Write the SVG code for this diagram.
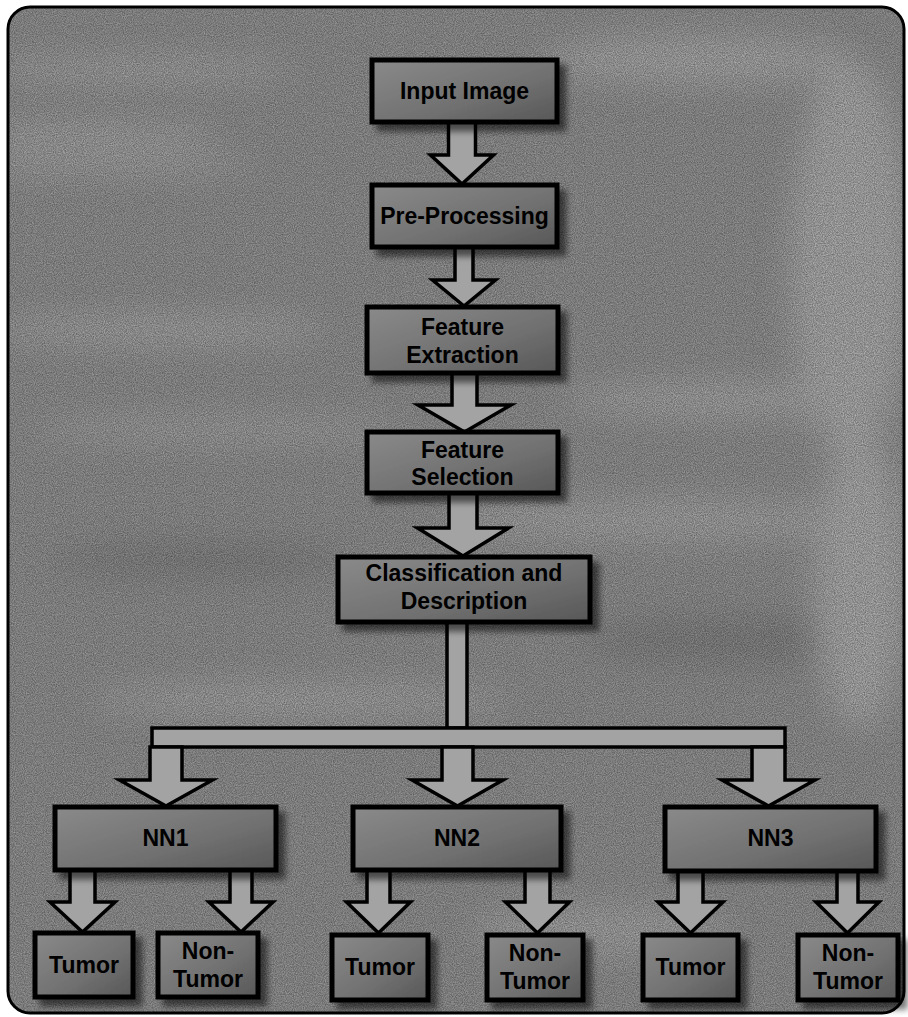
<svg xmlns="http://www.w3.org/2000/svg" width="908" height="1017" viewBox="0 0 908 1017">
<defs>
<style>
.box{fill:url(#boxg);stroke:#000;stroke-width:5;filter:url(#shadow)}
.arr{fill:#a3a3a3;stroke:#000;stroke-width:3.5;stroke-linejoin:miter}
.t{font-family:"Liberation Sans",Arial,sans-serif;font-weight:bold;font-size:23px;fill:#000;text-anchor:middle}
</style>
<linearGradient id="boxg" x1="0" y1="0" x2="1" y2="1">
<stop offset="0" stop-color="#8a8a8a"/>
<stop offset="0.6" stop-color="#707070"/>
<stop offset="1" stop-color="#575757"/>
</linearGradient>
<filter id="shadow" x="-10%" y="-20%" width="130%" height="150%">
<feDropShadow dx="7" dy="7" stdDeviation="3" flood-color="#000" flood-opacity="0.55"/>
</filter>
<filter id="noise" x="0" y="0" width="100%" height="100%">
<feTurbulence type="fractalNoise" baseFrequency="0.9" numOctaves="2" seed="3"/>
<feColorMatrix type="matrix" values="0 0 0 0 0  0 0 0 0 0  0 0 0 0 0  0 0 0 -1.4 1.2"/>
</filter>
<filter id="blur" x="-20%" y="-50%" width="140%" height="200%"><feGaussianBlur stdDeviation="16"/></filter>
<clipPath id="frameclip"><rect x="8" y="7" width="896" height="1006" rx="22"/></clipPath>
</defs>

<g id="background">
<rect x="8" y="7" width="896" height="1006" rx="22" fill="#9a9a9a"/>
<g clip-path="url(#frameclip)">
<g filter="url(#blur)" opacity="0.5">
<ellipse cx="140" cy="70" rx="160" ry="10" fill="#d0d0d0"/>
<ellipse cx="90" cy="135" rx="130" ry="9" fill="#d5d5d5"/>
<ellipse cx="110" cy="165" rx="150" ry="8" fill="#d0d0d0"/>
<ellipse cx="700" cy="60" rx="160" ry="25" fill="#c8c8c8"/>
<ellipse cx="850" cy="260" rx="60" ry="200" fill="#cfcfcf"/>
<ellipse cx="160" cy="330" rx="170" ry="12" fill="#cfcfcf"/>
<ellipse cx="220" cy="430" rx="190" ry="10" fill="#c8c8c8"/>
<ellipse cx="720" cy="400" rx="160" ry="15" fill="#cccccc"/>
<ellipse cx="650" cy="520" rx="210" ry="20" fill="#c4c4c4"/>
<ellipse cx="200" cy="560" rx="150" ry="16" fill="#777777"/>
<ellipse cx="750" cy="640" rx="170" ry="24" fill="#7a7a7a"/>
<ellipse cx="300" cy="700" rx="210" ry="15" fill="#c8c8c8"/>
<ellipse cx="860" cy="580" rx="45" ry="150" fill="#d0d0d0"/>
<ellipse cx="600" cy="930" rx="130" ry="25" fill="#c0c0c0"/>
</g>
<rect x="8" y="7" width="896" height="1006" fill="#000" filter="url(#noise)" opacity="0.4"/>
</g>
<rect x="8" y="7" width="896" height="1006" rx="22" fill="none" stroke="#000" stroke-width="3"/>
</g>

<g id="connectors">
<path class="arr" d="M448.5,122 V155 H430.5 L462,184 L493.5,155 H475.5 V122 Z"/>
<path class="arr" d="M455,247 V280 H432.5 L464,306 L495.5,280 H473 V247 Z"/>
<path class="arr" d="M452,373 V405 H418 L464.5,432 L511,405 H477 V373 Z"/>
<path class="arr" d="M449,493 V528 H417.5 L463,556 L508.5,528 H477 V493 Z"/>
<rect class="arr" x="447" y="622" width="20" height="106"/>
<rect class="arr" x="152" y="728" width="633" height="19"/>
<path class="arr" d="M150,747 V780 H119.5 L166,806 L212.5,780 H182 V747 Z"/>
<path class="arr" d="M442,747 V780 H412 L457.5,806 L503,780 H473 V747 Z"/>
<path class="arr" d="M752,747 V780 H722 L768.5,806 L815,780 H785 V747 Z"/>
<path class="arr" d="M70,870 V902 H50 L82.5,932 L115,902 H95 V870 Z"/>
<path class="arr" d="M230,870 V902 H209 L241,932 L273,902 H252 V870 Z"/>
<path class="arr" d="M367,870 V902 H346.5 L378.5,933 L410.5,902 H390 V870 Z"/>
<path class="arr" d="M525,870 V902 H505.5 L537.5,933 L569.5,902 H550 V870 Z"/>
<path class="arr" d="M678,871 V902 H658 L690.5,933 L723,902 H703 V871 Z"/>
<path class="arr" d="M837,871 V902 H816 L847.5,933 L879,902 H858 V871 Z"/>
</g>

<g id="input-image"><rect class="box" x="372" y="60" width="185" height="62"/><text class="t" x="464.5" y="99">Input Image</text></g>
<g id="pre-processing"><rect class="box" x="372" y="185" width="185" height="62"/><text class="t" x="464.5" y="224">Pre-Processing</text></g>
<g id="feature-extraction"><rect class="box" x="367" y="307" width="191" height="66"/><text class="t" x="462.5" y="335">Feature</text><text class="t" x="462.5" y="363">Extraction</text></g>
<g id="feature-selection"><rect class="box" x="367" y="432" width="191" height="61"/><text class="t" x="462.5" y="458">Feature</text><text class="t" x="462.5" y="485">Selection</text></g>
<g id="classification"><rect class="box" x="338" y="557" width="252" height="65"/><text class="t" x="464" y="581">Classification and</text><text class="t" x="464" y="609">Description</text></g>
<g id="nn1"><rect class="box" x="55" y="807" width="221" height="63"/><text class="t" x="165.5" y="846">NN1</text></g>
<g id="nn2"><rect class="box" x="353" y="807" width="208" height="63"/><text class="t" x="457" y="846">NN2</text></g>
<g id="nn3"><rect class="box" x="665" y="807" width="211" height="64"/><text class="t" x="770.5" y="846">NN3</text></g>
<g id="tumor1"><rect class="box" x="35" y="933" width="98" height="64"/><text class="t" x="84" y="973">Tumor</text></g>
<g id="nontumor1"><rect class="box" x="158" y="933" width="100" height="64"/><text class="t" x="208" y="959">Non-</text><text class="t" x="208" y="987">Tumor</text></g>
<g id="tumor2"><rect class="box" x="332" y="935" width="96" height="65"/><text class="t" x="380" y="975">Tumor</text></g>
<g id="nontumor2"><rect class="box" x="487" y="935" width="96" height="65"/><text class="t" x="535" y="961">Non-</text><text class="t" x="535" y="989">Tumor</text></g>
<g id="tumor3"><rect class="box" x="643" y="935" width="95" height="65"/><text class="t" x="690.5" y="975">Tumor</text></g>
<g id="nontumor3"><rect class="box" x="798" y="935" width="100" height="65"/><text class="t" x="848" y="961">Non-</text><text class="t" x="848" y="989">Tumor</text></g>
</svg>
